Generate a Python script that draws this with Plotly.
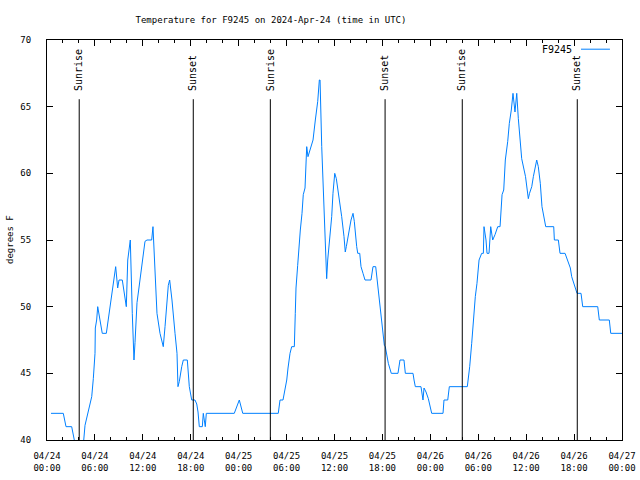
import pandas as pd
import plotly.graph_objects as go

# Hours since 2024-04-24 00:00 UTC
hours = [0.50, 2.04, 2.38, 3.09, 3.42, 3.69, 4.32, 4.60, 4.76, 5.10, 5.38, 5.60, 5.80, 6.01, 6.05, 6.22, 6.35,
         6.64, 6.92, 7.43, 7.76, 8.18, 8.43, 8.60, 8.85, 9.02, 9.43, 9.77, 9.93, 10.11, 10.43, 10.68, 10.89,
         11.02, 11.27, 11.48, 11.65, 11.86, 12.06, 12.27, 12.52, 13.11, 13.27, 13.56, 13.77, 14.15, 14.56,
         14.78, 15.03, 15.19, 15.36, 15.65, 16.03, 16.28, 16.40, 16.57, 16.87, 17.07, 17.57, 17.82, 18.12,
         18.53, 18.75, 18.91, 19.07, 19.45, 19.57, 19.70, 19.82, 19.95, 23.45, 24.08, 24.51, 28.96, 29.18,
         29.55, 29.77, 30.02, 30.18, 30.43, 30.64, 30.97, 31.09, 31.18, 31.39, 31.56, 31.72, 31.93, 32.09,
         32.31, 32.52, 32.68, 32.97, 33.31, 33.60, 33.90, 34.10, 34.19, 34.40, 34.60, 34.69, 34.81, 34.94,
         35.02, 35.15, 35.35, 35.48, 35.65, 35.81, 36.03, 36.23, 36.44, 36.65, 36.90, 37.19, 37.35, 37.48,
         37.69, 37.85, 38.07, 38.32, 38.48, 38.78, 38.91, 39.16, 39.32, 39.57, 39.82, 40.57, 40.82, 41.16,
         41.32, 41.54, 41.70, 41.82, 42.07, 42.24, 42.36, 42.57, 42.74, 43.11, 43.95, 44.20, 44.70, 44.87,
         45.83, 45.96, 46.12, 46.83, 47.08, 47.21, 47.46, 47.75, 48.17, 49.59, 49.71, 50.18, 50.38, 52.63,
         52.93, 53.18, 53.38, 53.63, 53.84, 54.10, 54.43, 54.64, 54.72, 54.97, 55.10, 55.35, 55.56, 55.81,
         56.10, 56.44, 56.73, 56.81, 56.98, 57.19, 57.39, 57.69, 57.89, 58.14, 58.35, 58.60, 58.82, 59.02,
         59.23, 59.44, 59.92, 60.27, 60.42, 60.70, 60.90, 61.32, 61.52, 61.77, 61.98, 62.45, 63.45, 63.53,
         64.03, 64.24, 64.87, 65.24, 65.53, 65.70, 65.87, 66.16, 66.37, 66.87, 67.08, 68.96, 69.16, 70.41,
         70.59, 72.00]
temps = [42, 42, 41, 41, 40, 39, 39, 40, 41.1, 42, 42.9, 43.25, 44.6, 46.5, 48.4, 49, 50,
         48.8, 48, 48, 49.5, 51, 52.5, 53, 51.4, 52, 52, 50.5, 50, 53.5, 55, 49.5, 46,
         47.3, 50.3, 51.25, 52, 53, 54.1, 54.9, 55, 55, 56, 52, 49.5, 48, 47,
         48.5, 50.75, 51.6, 52, 50.5, 48, 46.5, 44, 44.4, 45.5, 46, 46, 44, 43,
         43, 42.7, 42.1, 41, 41, 42, 41.5, 41, 42, 42, 43, 42, 42, 43,
         43, 43.75, 44.5, 45.4, 46.5, 47, 47, 49.5, 51.4, 53.1, 54.75, 55.75, 57, 58.4,
         58.9, 62, 61.25, 61.75, 62.5, 64, 65.4, 67, 67, 62, 58.75, 56.25, 54.5, 52.9,
         52.1, 53.5, 54.75, 55.5, 56.75, 58.5, 60, 59.6, 58.75, 57.75, 56.75, 55.25, 54.1, 54.5,
         55.25, 56, 56.5, 57, 56.4, 54.5, 54, 54, 53, 52.5, 52, 52, 53, 53,
         52.1, 51, 50, 49.25, 48.1, 47.1, 47, 46.25, 45.75, 45, 45, 46, 46, 45,
         45, 44.5, 44, 44, 43, 43.9, 43.6, 43.1, 42, 42, 43, 43, 44, 44,
         45.5, 47.25, 49, 50.75, 51.75, 53.5, 54, 54, 56, 55, 54, 54, 56, 55,
         55.4, 56, 56, 57, 58.4, 58.75, 61, 62.4, 63.75, 64.75, 66, 64.6, 66, 64.1,
         62.75, 61.1, 59.75, 58.1, 58.5, 59, 59.75, 61, 60.5, 59.25, 57.5, 56, 56, 55,
         55, 54, 54, 53.4, 52.9, 52.25, 51.9, 51.25, 51, 51, 50, 50, 49, 49,
         48, 48]

sun_times = ["2024-04-24 04:02", "2024-04-24 18:19", "2024-04-25 03:58",
             "2024-04-25 18:20", "2024-04-26 04:00", "2024-04-26 18:24"]
sun_labels = ["Sunrise", "Sunset", "Sunrise", "Sunset", "Sunrise", "Sunset"]

start = pd.Timestamp("2024-04-24 00:00")
times = start + pd.to_timedelta(hours, unit="h")

FONT = "DejaVu Sans Mono"
FS = 9
BLUE = "rgb(0,128,255)"

fig = go.Figure()
fig.add_trace(go.Scatter(x=times, y=temps, mode="lines", name="F9245",
                         line=dict(color=BLUE, width=1), showlegend=False))

for t, lab in zip(sun_times, sun_labels):
    fig.add_shape(type="line", xref="x", yref="paper", x0=t, x1=t, y0=0, y1=0.852,
                  line=dict(color="black", width=1))
    fig.add_annotation(x=t, xref="x", y=0.868, yref="paper", text=lab, textangle=-90,
                       showarrow=False, xanchor="center", yanchor="bottom",
                       font=dict(family=FONT, size=10, color="black"))

# legend (gnuplot style: text then sample)
fig.add_annotation(x=0.9165, y=0.977, xref="paper", yref="paper", text="F9245", showarrow=False,
                   xanchor="right", yanchor="middle", font=dict(family=FONT, size=10, color="black"))
fig.add_shape(type="line", xref="paper", yref="paper", x0=0.9287, x1=0.979, y0=0.977, y1=0.977,
              line=dict(color=BLUE, width=1))

# y-axis title
fig.add_annotation(x=-0.0643, y=0.5, xref="paper", yref="paper", text="degrees F", textangle=-90,
                   showarrow=False, xanchor="center", yanchor="middle",
                   font=dict(family=FONT, size=FS, color="black"))

fig.update_layout(
    width=640, height=480,
    margin=dict(l=47, r=18, t=40, b=40, autoexpand=False),
    paper_bgcolor="white", plot_bgcolor="white",
    font=dict(family=FONT, size=FS, color="black"),
    title=dict(text="Temperature for F9245 on 2024-Apr-24 (time in UTC)", x=0.4234, xanchor="center",
               y=0.959, yanchor="middle", font=dict(family=FONT, size=FS, color="black")),
    showlegend=False,
)
fig.update_xaxes(
    range=[start, start + pd.Timedelta(hours=72)], automargin=False,
    tick0=start, dtick=6 * 3600 * 1000, tickformat="%m/%d<br>%H:%M",
    ticks="inside", ticklen=6, tickcolor="black", tickwidth=1,
    minor=dict(dtick=2 * 3600 * 1000, ticks="inside", ticklen=3, tickcolor="black", tickwidth=1),
    showline=True, linecolor="black", linewidth=1, mirror="ticks",
    showgrid=False, zeroline=False, ticklabelstandoff=7,
)
fig.update_yaxes(
    range=[40, 70], dtick=5, tick0=40, automargin=False,
    ticks="inside", ticklen=6, tickcolor="black", tickwidth=1,
    showline=True, linecolor="black", linewidth=1, mirror="ticks",
    showgrid=False, zeroline=False, ticklabelstandoff=13,
)

fig.write_html("out.html", config={"displayModeBar": False},
               post_script="document.body.style.margin='0px';")
